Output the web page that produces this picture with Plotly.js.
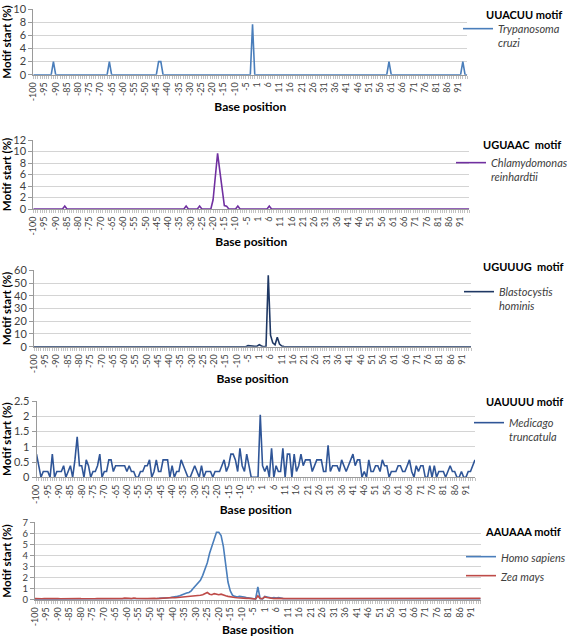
<!DOCTYPE html>
<html>
<head>
<meta charset="utf-8">
<script src="https://cdn.plot.ly/plotly-3.0.1.min.js"></script>
<style>
  html, body { margin: 0; padding: 0; background: #ffffff; }
  #chart { width: 567px; height: 637px; }
</style>
</head>
<body>
<div id="chart"></div>
<script>
// Base positions (categories): -100..-1, 1..95 (no 0)
const positions = [
  -100,-99,-98,-97,-96,-95,-94,-93,-92,-91,-90,-89,-88,-87,-86,-85,-84,-83,-82,-81,
  -80,-79,-78,-77,-76,-75,-74,-73,-72,-71,-70,-69,-68,-67,-66,-65,-64,-63,-62,-61,
  -60,-59,-58,-57,-56,-55,-54,-53,-52,-51,-50,-49,-48,-47,-46,-45,-44,-43,-42,-41,
  -40,-39,-38,-37,-36,-35,-34,-33,-32,-31,-30,-29,-28,-27,-26,-25,-24,-23,-22,-21,
  -20,-19,-18,-17,-16,-15,-14,-13,-12,-11,-10,-9,-8,-7,-6,-5,-4,-3,-2,-1,
  1,2,3,4,5,6,7,8,9,10,11,12,13,14,15,16,17,18,19,20,
  21,22,23,24,25,26,27,28,29,30,31,32,33,34,35,36,37,38,39,40,
  41,42,43,44,45,46,47,48,49,50,51,52,53,54,55,56,57,58,59,60,
  61,62,63,64,65,66,67,68,69,70,71,72,73,74,75,76,77,78,79,80,
  81,82,83,84,85,86,87,88,89,90,91,92,93,94,95
];

// Labelled ticks
const tickLabels = [-100,-95,-90,-85,-80,-75,-70,-65,-60,-55,-50,-45,-40,-35,-30,-25,-20,-15,-10,-5,
  1,6,11,16,21,26,31,36,41,46,51,56,61,66,71,76,81,86,91];

// Panel titles (motifs) and species
const motifs = ['UUACUU motif', 'UGUAAC  motif', 'UGUUUG  motif', 'UAUUUU motif', 'AAUAAA motif'];
const species = ['Trypanosoma<br>cruzi', 'Chlamydomonas<br>reinhardtii', 'Blastocystis<br>hominis',
  'Medicago<br>truncatula', 'Homo sapiens', 'Zea mays'];

// Panel 1: UUACUU motif, Trypanosoma cruzi
const tcruzi = [
  0,0,0,0,0,0,0,0,0,2, 0,0,0,0,0,0,0,0,0,0,
  0,0,0,0,0,0,0,0,0,0, 0,0,0,0,2,0,0,0,0,0,
  0,0,0,0,0,0,0,0,0,0, 0,0,0,0,0,0,2,2,0,0,
  0,0,0,0,0,0,0,0,0,0, 0,0,0,0,0,0,0,0,0,0,
  0,0,0,0,0,0,0,0,0,0, 0,0,0,0,0,0,0,0,7.7,0,
  0,0,0,0,0,0,0,0,0,0, 0,0,0,0,0,0,0,0,0,0,
  0,0,0,0,0,0,0,0,0,0, 0,0,0,0,0,0,0,0,0,0,
  0,0,0,0,0,0,0,0,0,0, 0,0,0,0,0,0,0,0,0,2,
  0,0,0,0,0,0,0,0,0,0, 0,0,0,0,0,0,0,0,0,0,
  0,0,0,0,0,0,0,0,0,0, 0,0,2,0,0
];

// Panel 2: UGUAAC motif, Chlamydomonas reinhardtii
const creinhardtii = [
  0,0,0,0,0,0,0,0,0,0, 0,0,0,0,0.5,0,0,0,0,0,
  0,0,0,0,0,0,0,0,0,0, 0,0,0,0,0,0,0,0,0,0,
  0,0,0,0,0,0,0,0,0,0, 0,0,0,0,0,0,0,0,0,0,
  0,0,0,0,0,0,0,0,0.5,0, 0,0,0,0,0.5,0,0,0,0,0,
  1.6,5.6,9.7,6.6,3.6,0.6,0.5,0,0,0, 0,0.5,0,0,0,0,0,0,0,0,
  0,0,0,0,0,0.5,0,0,0,0, 0,0,0,0,0,0,0,0,0,0,
  0,0,0,0,0,0,0,0,0,0, 0,0,0,0,0,0,0,0,0,0,
  0,0,0,0,0,0,0,0,0,0, 0,0,0,0,0,0,0,0,0,0,
  0,0,0,0,0,0,0,0,0,0, 0,0,0,0,0,0,0,0,0,0,
  0,0,0,0,0,0,0,0,0,0, 0,0,0,0,0
];

// Panel 3: UGUUUG motif, Blastocystis hominis
const bhominis = [
  0,0,0,0,0,0,0,0,0,0, 0,0,0,0,0,0,0,0,0,0,
  0,0,0,0,0,0,0,0,0,0, 0,0,0,0,0,0,0,0,0,0,
  0,0,0,0,0,0,0,0,0,0, 0,0,0,0,0,0,0,0,0,0,
  0,0,0,0,0,0,0,0,0,0, 0,0,0,0,0,0,0,0,0,0,
  0,0,0,0,0,0.2,0,0,0.5,0, 0.3,0,0,0.4,0,0.8,0.5,0,0.3,0.4,
  1.5,0.5,0,0.3,56,9,3,1.5,7.5,2, 0.5,0.2,0,0,0,0,0,0,0,0,
  0,0,0,0,0,0,0,0,0,0, 0,0,0,0,0,0,0,0,0,0,
  0,0,0,0,0,0,0,0,0,0, 0,0,0,0,0,0,0,0,0,0,
  0,0,0,0,0,0,0,0,0,0, 0,0,0,0,0,0,0,0,0,0,
  0,0,0,0,0,0,0,0,0,0, 0,0,0,0,0
];

// Panel 4: UAUUUU motif, Medicago truncatula
const mtruncatula = [
  0.76,0.38,0,0.19,0.19,0.19,0,0.76,0,0.19, 0.19,0.19,0.38,0,0.19,0.38,0,0.57,1.33,0.38,
  0.38,0,0.57,0.38,0,0.19,0.19,0.38,0.76,0, 0.19,0.19,0.57,0.57,0.19,0.38,0.38,0.38,0.38,0.38,
  0.19,0.38,0.19,0.19,0,0,0.19,0.19,0.38,0.38, 0.57,0,0.19,0.57,0.19,0.19,0.57,0.57,0.57,0,
  0.38,0,0.19,0.19,0.57,0.38,0.19,0,0,0.19, 0.38,0.19,0,0.38,0,0.19,0.19,0.19,0,0.19,
  0.19,0.19,0.38,0.57,0.19,0.38,0.76,0.76,0.57,0.19, 0.95,0.38,0.19,0.76,0.38,0,0,0,0,2.05,
  0.38,0.19,0.38,0,0.95,0,0.38,0.19,0.19,0.95, 0,0.76,0.76,0,0.76,0.19,0.38,0.76,0.38,0.57,
  0.57,0.57,0.19,0.38,0.57,0.57,0.57,0.19,0.19,1.05, 0.19,0.38,0.38,0.38,0.19,0.57,0.38,0.19,0.38,0.57,
  0.76,0.38,0.57,0.57,0,0.19,0,0.57,0.19,0.19, 0.38,0.38,0.19,0.57,0.38,0.38,0,0.19,0.19,0.19,
  0.38,0.38,0.19,0.19,0.38,0.57,0.19,0,0.38,0.19, 0.38,0.38,0,0,0.38,0,0.38,0,0.19,0.19,
  0.19,0,0.19,0.38,0.19,0.19,0,0,0.19,0, 0,0.19,0.19,0.38,0.57
];

// Panel 5: AAUAAA motif, Homo sapiens and Zea mays
const hsapiens = [
  0.05,0.06,0.05,0.05,0.06,0.05,0.05,0.06,0.05,0.05, 0.06,0.05,0.05,0.06,0.05,0.05,0.06,0.05,0.05,0.06,
  0.05,0.06,0.06,0.05,0.06,0.05,0.06,0.06,0.05,0.06, 0.06,0.05,0.06,0.06,0.07,0.06,0.06,0.07,0.06,0.06,
  0.06,0.07,0.06,0.07,0.08,0.07,0.08,0.09,0.08,0.09, 0.1,0.1,0.1,0.11,0.12,0.12,0.15,0.15,0.18,0.2,
  0.22,0.25,0.3,0.35,0.45,0.55,0.6,0.65,0.8,1.05, 1.3,1.55,1.75,2.2,2.75,3.35,4.2,4.8,5.4,6.1,
  6.1,5.8,4.8,3.2,1.6,0.8,0.4,0.3,0.25,0.3, 0.3,0.25,0.2,0.15,0.1,0.05,0.05,1.15,0.1,0.05,
  0.3,0.25,0.2,0.15,0.2,0.15,0.2,0.12,0.1,0.08, 0.08,0.07,0.06,0.06,0.05,0.06,0.05,0.05,0.06,0.05,
  0.05,0.06,0.05,0.05,0.05,0.06,0.05,0.05,0.06,0.05, 0.05,0.05,0.06,0.05,0.05,0.06,0.05,0.05,0.05,0.06,
  0.05,0.05,0.06,0.05,0.05,0.05,0.06,0.05,0.05,0.06, 0.05,0.05,0.05,0.06,0.05,0.05,0.06,0.05,0.05,0.05,
  0.06,0.05,0.05,0.06,0.05,0.05,0.05,0.06,0.05,0.05, 0.06,0.05,0.05,0.05,0.06,0.05,0.05,0.06,0.05,0.05,
  0.05,0.06,0.05,0.05,0.06,0.05,0.05,0.05,0.06,0.05, 0.05,0.06,0.05,0.05,0.06
];
const zmays = [
  0.1,0.08,0.1,0.09,0.1,0.11,0.1,0.09,0.1,0.12, 0.1,0.09,0.1,0.11,0.1,0.1,0.09,0.1,0.1,0.11,
  0.1,0.09,0.1,0.1,0.11,0.1,0.09,0.1,0.12,0.1, 0.1,0.11,0.1,0.09,0.1,0.1,0.12,0.1,0.1,0.14,
  0.1,0.12,0.1,0.15,0.12,0.1,0.1,0.12,0.1,0.1, 0.12,0.15,0.12,0.1,0.12,0.15,0.13,0.15,0.15,0.18,
  0.2,0.18,0.2,0.22,0.2,0.25,0.28,0.3,0.3,0.35, 0.32,0.38,0.4,0.45,0.55,0.65,0.5,0.45,0.55,0.5,
  0.45,0.5,0.4,0.35,0.3,0.25,0.2,0.2,0.18,0.15, 0.15,0.15,0.12,0.12,0.1,0.05,0.05,0.35,0.1,0.1,
  0.25,0.2,0.15,0.12,0.1,0.12,0.1,0.1,0.08,0.1, 0.1,0.09,0.1,0.11,0.1,0.09,0.1,0.1,0.11,0.1,
  0.1,0.09,0.1,0.1,0.11,0.1,0.1,0.09,0.1,0.11, 0.1,0.1,0.09,0.1,0.1,0.12,0.1,0.09,0.1,0.1,
  0.11,0.1,0.1,0.09,0.1,0.11,0.1,0.1,0.09,0.1, 0.1,0.11,0.1,0.09,0.1,0.1,0.11,0.1,0.1,0.09,
  0.1,0.1,0.11,0.1,0.09,0.1,0.1,0.11,0.1,0.1, 0.09,0.1,0.1,0.11,0.1,0.1,0.09,0.1,0.11,0.1,
  0.1,0.09,0.1,0.1,0.11,0.1,0.1,0.09,0.1,0.1, 0.11,0.1,0.1,0.09,0.12
];

const W = 567, H = 637;
const FONT = 'Lato, "Open Sans", sans-serif';
const tickText = positions.map(p => tickLabels.includes(p) ? String(p) : '');

function px(x) { return x / W; }
function py(y) { return 1 - y / H; }

function xAxis(n, left, right) {
  return {
    type: 'category', domain: [px(left), px(right)], anchor: 'y' + n,
    range: [0, positions.length - 1], autorange: false,
    tickmode: 'array', tickvals: positions, ticktext: tickText,
    tickangle: -90, ticks: 'outside', ticklen: 3, tickcolor: '#9a9a9a', tickwidth: 0.6,
    showline: true, linecolor: '#9a9a9a', linewidth: 1,
    showgrid: false, zeroline: false,
    tickfont: { family: FONT, size: 9, color: '#404040' },
    title: { text: 'Base position', font: { family: FONT, size: 12, weight: 'bold', color: '#000' }, standoff: 2 },
    automargin: false
  };
}
function yAxis(n, top, bottom, max, dtick, standoff, fontSize) {
  return {
    domain: [py(bottom), py(top)], anchor: 'x' + n,
    range: [0, max], autorange: false, dtick: dtick, tick0: 0,
    showline: true, linecolor: '#9a9a9a', linewidth: 1,
    ticks: 'outside', ticklen: 4, tickcolor: '#9a9a9a',
    showgrid: true, gridcolor: '#d4d4d4', gridwidth: 1, zeroline: false,
    tickfont: { family: FONT, size: fontSize, color: '#404040' },
    title: { text: 'Motif start (%)', font: { family: FONT, size: 11.5, weight: 'bold', color: '#000' }, standoff: standoff },
    automargin: false
  };
}
function legendBox(xPx, yPx) {
  return {
    x: px(xPx), y: py(yPx), xanchor: 'left', yanchor: 'top',
    bgcolor: 'rgba(0,0,0,0)', borderwidth: 0, valign: 'top',
    font: { family: FONT, size: 11, style: 'italic', color: '#404040' },
    itemwidth: 30, tracegroupgap: 0
  };
}
function motifTitle(text, rightPx, yPx) {
  return {
    text: text, xref: 'paper', yref: 'paper', x: px(rightPx), y: py(yPx),
    xanchor: 'right', yanchor: 'middle', showarrow: false,
    font: { family: FONT, size: 11, weight: 'bold', color: '#000' }
  };
}

const traces = [
  { x: positions, y: tcruzi, xaxis: 'x', yaxis: 'y', legend: 'legend', name: species[0],
    type: 'scatter', mode: 'lines', line: { color: '#4a7ebb', width: 1.6 } },
  { x: positions, y: creinhardtii, xaxis: 'x2', yaxis: 'y2', legend: 'legend2', name: species[1],
    type: 'scatter', mode: 'lines', line: { color: '#7030a0', width: 1.6 } },
  { x: positions, y: bhominis, xaxis: 'x3', yaxis: 'y3', legend: 'legend3', name: species[2],
    type: 'scatter', mode: 'lines', line: { color: '#1f3864', width: 1.6 } },
  { x: positions, y: mtruncatula, xaxis: 'x4', yaxis: 'y4', legend: 'legend4', name: species[3],
    type: 'scatter', mode: 'lines', line: { color: '#2f5597', width: 1.6 } },
  { x: positions, y: hsapiens, xaxis: 'x5', yaxis: 'y5', legend: 'legend5', name: species[4],
    type: 'scatter', mode: 'lines', line: { color: '#4a7ebb', width: 1.6 } },
  { x: positions, y: zmays, xaxis: 'x5', yaxis: 'y5', legend: 'legend5', name: species[5],
    type: 'scatter', mode: 'lines', line: { color: '#be4b48', width: 1.6 } }
];

const layout = {
  width: W, height: H,
  margin: { l: 0, r: 0, t: 0, b: 0, pad: 0, autoexpand: false },
  paper_bgcolor: '#ffffff', plot_bgcolor: '#ffffff',
  font: { family: FONT, color: '#404040' },
  showlegend: true,
  xaxis: xAxis(1, 33.3, 467.3),  yaxis: yAxis(1, 9.3, 74.7, 10, 2, 12, 11),
  xaxis2: xAxis(2, 33.3, 469.3), yaxis2: yAxis(2, 140, 209, 12, 2, 12, 11),
  xaxis3: xAxis(3, 34, 471),     yaxis3: yAxis(3, 270.3, 346.7, 60, 10, 12, 11),
  xaxis4: xAxis(4, 36.5, 475),   yaxis4: yAxis(4, 401, 477.3, 2.5, 0.5, 10, 11),
  xaxis5: xAxis(5, 35, 480.7),   yaxis5: yAxis(5, 522.3, 599.7, 7, 1, 14, 9.5),
  legend:  legendBox(458, 15),
  legend2: legendBox(451, 149),
  legend3: legendBox(459, 278),
  legend4: legendBox(469, 409),
  legend5: legendBox(461, 543),
  annotations: [
    motifTitle(motifs[0], 564, 14),
    motifTitle(motifs[1], 563, 144),
    motifTitle(motifs[2], 565, 266),
    motifTitle(motifs[3], 565, 401),
    motifTitle(motifs[4], 563, 531)
  ]
};

Plotly.newPlot('chart', traces, layout, { displayModeBar: false, staticPlot: true });
</script>
</body>
</html>
